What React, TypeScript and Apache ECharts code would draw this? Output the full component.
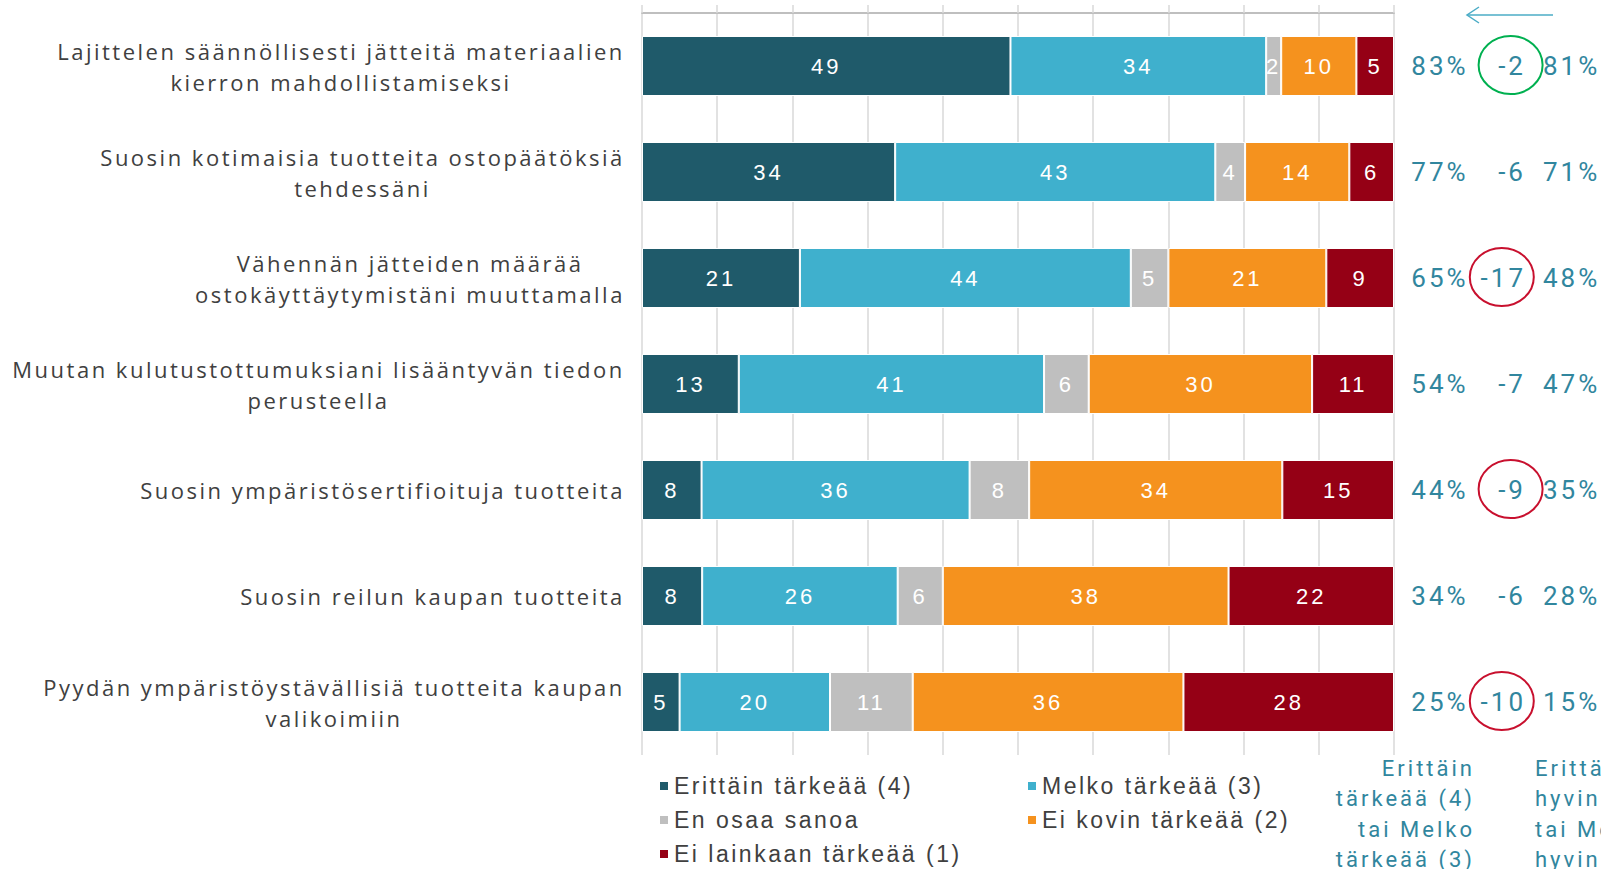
import React, { useEffect, useRef } from 'react';
import * as echarts from 'echarts';

// ---- data ----
const categories = [
  'Lajittelen säännöllisesti jätteitä materiaalien\nkierron mahdollistamiseksi',
  'Suosin kotimaisia tuotteita ostopäätöksiä\ntehdessäni',
  'Vähennän jätteiden määrää\nostokäyttäytymistäni muuttamalla',
  'Muutan kulutustottumuksiani lisääntyvän tiedon\nperusteella',
  'Suosin ympäristösertifioituja tuotteita',
  'Suosin reilun kaupan tuotteita',
  'Pyydän ympäristöystävällisiä tuotteita kaupan\nvalikoimiin',
];
const seriesNames = [
  'Erittäin tärkeää (4)',
  'Melko tärkeää (3)',
  'En osaa sanoa',
  'Ei kovin tärkeää (2)',
  'Ei lainkaan tärkeää (1)',
];
const veryImportant = [49, 34, 21, 13, 8, 8, 5];
const fairlyImportant = [34, 43, 44, 41, 36, 26, 20];
const cannotSay = [2, 4, 5, 6, 8, 6, 11];
const notVeryImportant = [10, 14, 21, 30, 34, 38, 36];
const notAtAllImportant = [5, 6, 9, 11, 15, 22, 28];
const importantShare = ['83%', '77%', '65%', '54%', '44%', '34%', '25%'];
const gapValues = ['-2', '-6', '-17', '-7', '-9', '-6', '-10'];
const doneShare = ['81%', '71%', '48%', '47%', '35%', '28%', '15%'];
const gapMark = ['good', '', 'bad', '', 'bad', '', 'bad'];
const footerLeft = ['Erittäin', 'tärkeää (4)', 'tai Melko', 'tärkeää (3)'];
const footerRight = ['Erittäin', 'hyvin', 'tai Melko', 'hyvin'];

const colors = ['#1f5a6a', '#3fb0cd', '#bfbfbf', '#f5921e', '#950015'];
const TEAL = '#31869e';
const TEXT = '#404040';
const CAT_FONT = 'Open Sans';
const CAT_SIZE = 22;
const CAT_SP = 2.5;
const NUM_FONT = 'Roboto';
const NUM_SP = 3;

function measure(text: string, font: string, sp: number) {
  const c = document.createElement('canvas').getContext('2d')!;
  c.font = font;
  return c.measureText(text).width + sp * text.length;
}

export default function App() {
  const ref = useRef<HTMLDivElement>(null);

  useEffect(() => {
    const chart = echarts.init(ref.current!, null, { renderer: 'svg' });
    const raw = [veryImportant, fairlyImportant, cannotSay, notVeryImportant, notAtAllImportant];
    const totals = categories.map((_, i) => raw.reduce((s, arr) => s + arr[i], 0));

    const rich: Record<string, any> = {};
    categories.forEach((c, i) => {
      const lines = c.split('\n');
      const w = Math.max(...lines.map((l) => measure(l, `${CAT_SIZE}px "${CAT_FONT}"`, CAT_SP)));
      rich['c' + i] = {
        width: Math.ceil(w),
        align: 'center',
        fontFamily: CAT_FONT,
        fontSize: CAT_SIZE,
        color: TEXT,
        lineHeight: 31,
      };
    });

    const barSeries = raw.map((arr, si) => ({
      name: seriesNames[si],
      type: 'bar',
      stack: 'total',
      barWidth: 60,
      itemStyle: { color: colors[si], borderColor: '#ffffff', borderWidth: 1 },
      label: {
        show: true,
        position: 'inside',
        color: '#ffffff',
        fontSize: 22,
        fontFamily: "'Liberation Sans Narrow', 'Liberation Sans', sans-serif",
        formatter: (p: any) => String(arr[p.dataIndex]),
      },
      emphasis: { disabled: true },
      data: arr.map((v, i) => (v / totals[i]) * 100),
    }));

    const numFont = `26px "${NUM_FONT}"`;

    const sideSeries = {
      type: 'custom',
      silent: true,
      z: 10,
      clip: false,
      encode: { x: 0, y: 1 },
      data: categories.map((_, i) => [0, i]),
      renderItem: (params: any, api: any) => {
        const i = params.dataIndex;
        const y = api.coord([0, i])[1];
        const base = { fill: TEAL, fontFamily: NUM_FONT, fontSize: 26 };
        const gapRight = 1526;
        const gw = measure(gapValues[i], numFont, NUM_SP);
        const children: any[] = [
          {
            type: 'text',
            style: { ...base, text: importantShare[i], x: 1440, y, align: 'center', verticalAlign: 'middle', textAlign: 'center', textVerticalAlign: 'middle' },
          },
          {
            type: 'text',
            style: { ...base, text: gapValues[i], x: gapRight, y, align: 'right', verticalAlign: 'middle', textAlign: 'right', textVerticalAlign: 'middle' },
          },
          {
            type: 'text',
            style: { ...base, text: doneShare[i], x: 1543, y, align: 'left', verticalAlign: 'middle', textAlign: 'left', textVerticalAlign: 'middle' },
          },
        ];
        if (gapMark[i]) {
          children.push({
            type: 'ellipse',
            shape: { cx: gapRight - 3 - (gw - NUM_SP) / 2, cy: y - 1, rx: 32, ry: 29 },
            style: { fill: 'none', stroke: gapMark[i] === 'good' ? '#00b050' : '#c8102e', lineWidth: 2 },
          });
        }
        return { type: 'group', children };
      },
    };

    const legendBase = {
      orient: 'vertical',
      top: 774,
      padding: 0,
      itemWidth: 10,
      itemHeight: 10,
      itemGap: 10,
      icon: 'rect',
      selectedMode: false,
      textStyle: { color: TEXT, fontSize: 23, fontFamily: 'Liberation Sans', lineHeight: 24 },
    };

    const option: any = {
      animation: false,
      backgroundColor: '#ffffff',
      grid: { left: 642, right: 207, top: 13, bottom: 114 },
      xAxis: {
        type: 'value',
        position: 'top',
        min: 0,
        max: 100,
        interval: 10,
        axisLabel: { show: false },
        axisLine: { show: true, lineStyle: { color: '#bfbfbf', width: 2 } },
        axisTick: { show: true, length: 8, lineStyle: { color: '#d9d9d9', width: 1.5 } },
        splitLine: { show: true, lineStyle: { color: '#d9d9d9', width: 1.5 } },
      },
      yAxis: {
        type: 'category',
        inverse: true,
        data: categories,
        axisLine: { show: false },
        axisTick: { show: false },
        axisLabel: {
          margin: 17,
          align: 'right',
          formatter: (v: string, i: number) =>
            v.split('\n').map((l) => `{c${i}|${l}}`).join('\n'),
          rich,
        },
      },
      legend: [
        { ...legendBase, left: 658, data: [seriesNames[0], seriesNames[2], seriesNames[4]] },
        { ...legendBase, left: 1026, data: [seriesNames[1], seriesNames[3]] },
      ],
      graphic: [
        {
          type: 'line',
          shape: { x1: 1553, y1: 15, x2: 1467, y2: 15 },
          style: { stroke: '#4bacc6', lineWidth: 1.5 },
        },
        {
          type: 'polyline',
          shape: { points: [[1479, 7], [1467, 15], [1479, 23]] },
          style: { stroke: '#4bacc6', lineWidth: 1.5, fill: 'none' },
        },
        {
          type: 'text',
          x: 1475,
          y: 753,
          style: {
            text: footerLeft.join('\n'),
            align: 'right',
            verticalAlign: 'top',
            fill: TEAL,
            fontFamily: NUM_FONT,
            fontSize: 22,
            lineHeight: 30.5,
          },
        },
        {
          type: 'text',
          x: 1535,
          y: 753,
          style: {
            text: footerRight.join('\n'),
            align: 'left',
            verticalAlign: 'top',
            fill: TEAL,
            fontFamily: NUM_FONT,
            fontSize: 22,
            lineHeight: 30.5,
          },
        },
      ],
      series: [...barSeries, sideSeries],
    };
    chart.setOption(option);
    return () => chart.dispose();
  }, []);

  const css = `
.chartbox text[style*="Open Sans"]{letter-spacing:${CAT_SP}px}
.chartbox text[style*="Liberation Sans"]{letter-spacing:2.5px}
.chartbox text[style*="Liberation Sans Narrow"]{letter-spacing:3px}
.chartbox text[style*="Roboto"]{letter-spacing:${NUM_SP}px}
`;

  return (
    <>
      <style>{css}</style>
      <div
        ref={ref}
        className="chartbox"
        style={{ position: 'fixed', left: 0, top: 0, width: 1601, height: 869, background: '#fff' }}
      />
    </>
  );
}
